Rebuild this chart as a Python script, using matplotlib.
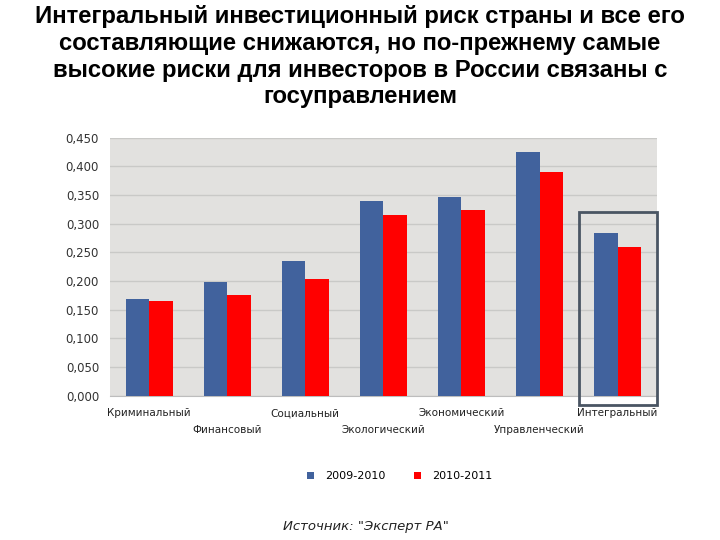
import numpy as np
import matplotlib.pyplot as plt
from matplotlib.patches import Rectangle
from matplotlib.ticker import FuncFormatter, MultipleLocator

# Risk components
categories = ["Криминальный", "Финансовый", "Социальный", "Экологический",
              "Экономический", "Управленческий", "Интегральный"]
risk_2009_2010 = [0.169, 0.198, 0.235, 0.339, 0.347, 0.425, 0.284]
risk_2010_2011 = [0.166, 0.175, 0.204, 0.315, 0.324, 0.391, 0.260]
series_names = ["2009-2010", "2010-2011"]

blue = "#41629d"
red = "#ff0000"

fig = plt.figure(figsize=(7.2, 5.4), dpi=100)
fig.patch.set_facecolor("white")

fig.text(0.5, 0.99,
         "Интегральный инвестиционный риск страны и все его\n"
         "составляющие снижаются, но по-прежнему самые\n"
         "высокие риски для инвесторов в России связаны с\n"
         "госуправлением",
         ha="center", va="top", fontsize=17.2, fontweight="bold",
         family="Liberation Sans", linespacing=1.2)

ax = fig.add_axes([0.153, 0.267, 0.759, 0.478])
ax.set_facecolor("#e2e1df")

x = np.arange(len(categories))
w = 0.3
ax.bar(x - w / 2, risk_2009_2010, w, color=blue, label=series_names[0], zorder=3)
ax.bar(x + w / 2, risk_2010_2011, w, color=red, label=series_names[1], zorder=3)

ax.set_xlim(-0.5, len(categories) - 0.5)
ax.set_ylim(0, 0.45)
ax.yaxis.set_major_locator(MultipleLocator(0.05))
ax.yaxis.set_major_formatter(FuncFormatter(lambda v, p: f"{v:.3f}".replace(".", ",")))
ax.grid(axis="y", color="#c9c9c7", linewidth=1, zorder=0)

# category labels staggered on two rows
ax.set_xticks(x[::2])
ax.set_xticklabels(categories[::2], family="DejaVu Sans", fontsize=7.5, color="#222222")
ax.set_xticks(x[1::2], minor=True)
ax.set_xticklabels(categories[1::2], minor=True, family="DejaVu Sans", fontsize=7.5,
                   color="#222222")
ax.tick_params(axis="x", which="major", length=0, pad=9)
ax.tick_params(axis="x", which="minor", length=0, pad=21)
ax.tick_params(axis="y", length=0, labelsize=8.5, labelcolor="#333333", pad=8)
for s in ["top", "right", "left"]:
    ax.spines[s].set_visible(False)
ax.spines["bottom"].set_color("#bdbdbd")

# highlight box around the integral risk
ax.add_patch(Rectangle((5.5, -0.016), 1.01, 0.337, fill=False,
                       edgecolor="#4a5563", linewidth=2, clip_on=False, zorder=4))

handles, labels = ax.get_legend_handles_labels()
fig.legend(handles, labels, loc="center", bbox_to_anchor=(0.555, 0.118), ncol=2,
           frameon=False, fontsize=8, handlelength=0.6, handleheight=0.6,
           columnspacing=2.6, handletextpad=1.0)

fig.text(0.393, 0.025, 'Источник: "Эксперт РА"', fontsize=9.5, style="italic",
         color="#222222", ha="left", va="center")

fig.savefig("out.png", dpi=100)
